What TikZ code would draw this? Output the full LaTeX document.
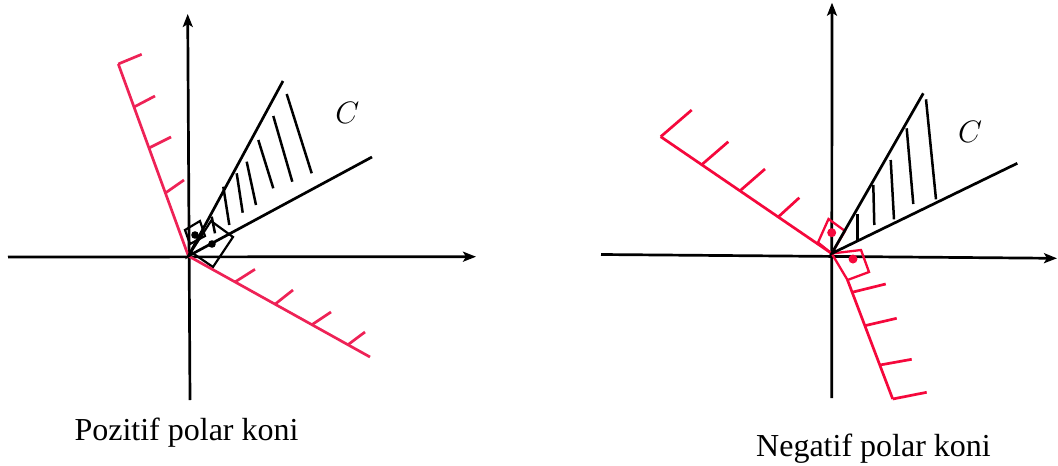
\RequirePackage{fix-cm}
\documentclass[tikz,border=0pt]{standalone}
\usepackage{fontspec}
\setmainfont{Liberation Serif}
\usetikzlibrary{arrows.meta}
\definecolor{polredA}{RGB}{238,34,86}
\definecolor{polredB}{RGB}{245,8,60}
\begin{document}
\begin{tikzpicture}[x=1pt,y=-1pt,
  axisln/.style={line width=2.7pt,-{Stealth[length=13pt,width=10pt,inset=3pt]}},
  ray/.style={line width=2.7pt},
  hatchln/.style={line width=2.5pt},
  polA/.style={color=polredA,line width=2.7pt},
  polB/.style={color=polredB,line width=2.7pt},
  ramark/.style={line width=2.2pt},
  lbl/.style={font=\fontsize{32}{38}\selectfont, inner sep=0pt},
  clbl/.style={font=\fontsize{31}{37}\selectfont, inner sep=0pt}]
\useasboundingbox (0,0) rectangle (1058,466);

% ===== left panel: positive polar cone =====
\coordinate (O1) at (188.4,256);
\coordinate (xl1) at (8,257);
\coordinate (xr1) at (476,256.7);
\coordinate (yb1) at (190,400);
\coordinate (yt1) at (187.7,14);
\draw[axisln] (xl1) -- (xr1);
\draw[axisln] (yb1) -- (yt1);

% right-angle marks
\draw[ramark] (185,230) -- (200,221) -- (205,236) -- (190,244) -- cycle;
\draw[ramark] (191,252) -- (213,267) -- (233,237) -- (211,221) -- cycle;
\fill (195,235) circle (3.8);
\fill (212,244) circle (3.8);

% polar cone boundary
\coordinate (ru1) at (118.3,64);
\coordinate (rl1) at (370,357);
\draw[polA] (ru1) -- (O1) -- (rl1);
\foreach \a/\b/\c/\d in {118.3/64/141.7/54.3, 134/107/155/96, 149/148/171/137, 165.4/193/184/180,
  235/282/255/269.3, 275/304.2/293/290, 312/324.7/331/312, 348/344.7/365/332}
  \draw[polA] (\a,\b) -- (\c,\d);

% cone C
\coordinate (cu1) at (283,81);
\coordinate (cl1) at (372,157);
\draw[ray] (cu1) -- (O1) -- (cl1);
\foreach \a/\b/\c/\d in {211.7/216.7/215/233.3, 223.3/186.7/229.3/225, 236.7/173.3/242.7/212.7,
  246.7/161.7/256/205, 258.3/140/273.3/188.3, 273.3/116/292.3/181.7, 286.7/94/311.7/173.3}
  \draw[hatchln] (\a,\b) -- (\c,\d);
\node[clbl] (c1) at (347.3,112.7) {$C$};
\node[lbl, anchor=base] (t1) at (186.5,440) {Pozitif polar koni};

% ===== right panel: negative polar cone =====
\coordinate (O2) at (831.7,253.5);
\coordinate (xl2) at (601,254.5);
\coordinate (xr2) at (1057,258.3);
\coordinate (yb2) at (831.7,398);
\coordinate (yt2) at (832,2.7);
\draw[axisln] (xl2) -- (xr2);
\draw[axisln] (yb2) -- (yt2);

% right-angle marks
\draw[polB, line width=2.3pt] (O2) -- (818,242.5) -- (828.5,219) -- (845,231) -- cycle;
\draw[polB, line width=2.3pt] (O2) -- (861,250) -- (869,272) -- (847.5,280) -- cycle;
\fill[polredB] (831.7,232.7) circle (4.5);
\fill[polredB] (853,259) circle (4.5);

% polar cone boundary
\coordinate (ru2) at (660.7,136.7);
\coordinate (rk2) at (847.5,280);
\coordinate (rl2) at (892.7,399);
\draw[polB] (ru2) -- (O2);
\draw[polB] (rk2) -- (rl2);
\foreach \a/\b/\c/\d in {660.7/136.7/691.7/110, 701.7/164.7/728.3/141.7, 740/190.8/765/169, 778.3/216.9/799.3/197.7,
  892.7/399/926.7/392.3, 880/365/911.7/359.3, 864.8/325.7/896.7/318.3, 852/292.3/885.7/284}
  \draw[polB] (\a,\b) -- (\c,\d);

% cone C
\coordinate (cu2) at (923.3,93.3);
\coordinate (cl2) at (1017.3,163.3);
\draw[ray] (cu2) -- (O2) -- (cl2);
\foreach \a/\b/\c/\d in {857.3/214/857.3/240, 873.3/185/874.3/225, 890.7/160/894/219.3,
  906.7/128.3/913.3/204, 926/99.3/936/199.3}
  \draw[hatchln] (\a,\b) -- (\c,\d);
\node[clbl] (c2) at (970,131.7) {$C$};
\node[lbl, anchor=base] (t2) at (873.5,456) {Negatif polar koni};
\end{tikzpicture}
\end{document}
